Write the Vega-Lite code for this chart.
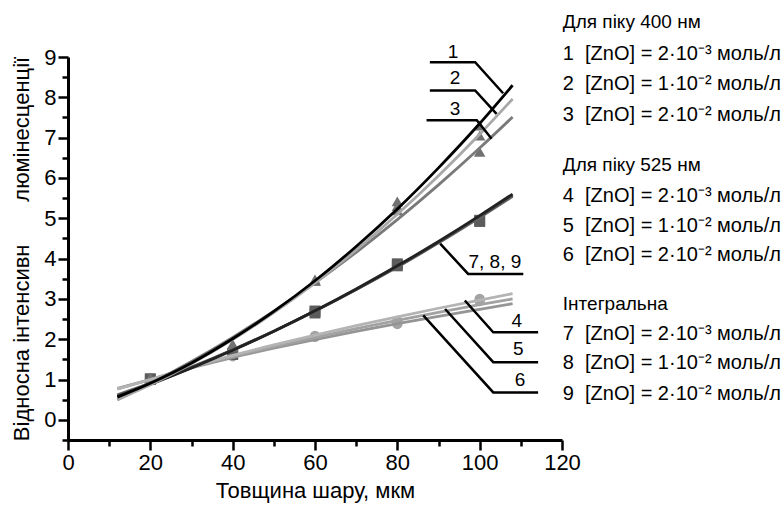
{
  "$schema": "https://vega.github.io/schema/vega-lite/v6.json",
  "width": 494,
  "height": 383,
  "autosize": {"type": "none"},
  "padding": {"left": 68, "top": 57, "right": 222, "bottom": 73},
  "background": "white",
  "config": {
    "view": {"stroke": null},
    "font": "Liberation Sans, Arial, sans-serif",
    "text": {"font": "Liberation Sans, Arial, sans-serif"}
  },
  "datasets": {
    "fits": [
      {"s": "6", "x": 12, "y": 0.78}, {"s": "6", "x": 20, "y": 1.0}, {"s": "6", "x": 30, "y": 1.29}, {"s": "6", "x": 40, "y": 1.545}, {"s": "6", "x": 50, "y": 1.776}, {"s": "6", "x": 60, "y": 1.992}, {"s": "6", "x": 70, "y": 2.195}, {"s": "6", "x": 80, "y": 2.385}, {"s": "6", "x": 90, "y": 2.568}, {"s": "6", "x": 100, "y": 2.743}, {"s": "6", "x": 108, "y": 2.88},
      {"s": "5", "x": 12, "y": 0.77}, {"s": "5", "x": 20, "y": 1.0}, {"s": "5", "x": 30, "y": 1.302}, {"s": "5", "x": 40, "y": 1.571}, {"s": "5", "x": 50, "y": 1.817}, {"s": "5", "x": 60, "y": 2.048}, {"s": "5", "x": 70, "y": 2.264}, {"s": "5", "x": 80, "y": 2.469}, {"s": "5", "x": 90, "y": 2.667}, {"s": "5", "x": 100, "y": 2.855}, {"s": "5", "x": 108, "y": 3.0},
      {"s": "4", "x": 12, "y": 0.76}, {"s": "4", "x": 20, "y": 1.0}, {"s": "4", "x": 30, "y": 1.316}, {"s": "4", "x": 40, "y": 1.598}, {"s": "4", "x": 50, "y": 1.859}, {"s": "4", "x": 60, "y": 2.104}, {"s": "4", "x": 70, "y": 2.336}, {"s": "4", "x": 80, "y": 2.556}, {"s": "4", "x": 90, "y": 2.768}, {"s": "4", "x": 100, "y": 2.972}, {"s": "4", "x": 108, "y": 3.13},
      {"s": "9", "x": 12, "y": 0.62}, {"s": "9", "x": 20, "y": 0.91}, {"s": "9", "x": 30, "y": 1.31}, {"s": "9", "x": 40, "y": 1.74}, {"s": "9", "x": 50, "y": 2.2}, {"s": "9", "x": 60, "y": 2.7}, {"s": "9", "x": 70, "y": 3.23}, {"s": "9", "x": 80, "y": 3.79}, {"s": "9", "x": 90, "y": 4.39}, {"s": "9", "x": 100, "y": 5.02}, {"s": "9", "x": 108, "y": 5.54},
      {"s": "8", "x": 12, "y": 0.6}, {"s": "8", "x": 20, "y": 0.895}, {"s": "8", "x": 30, "y": 1.296}, {"s": "8", "x": 40, "y": 1.731}, {"s": "8", "x": 50, "y": 2.199}, {"s": "8", "x": 60, "y": 2.7}, {"s": "8", "x": 70, "y": 3.235}, {"s": "8", "x": 80, "y": 3.803}, {"s": "8", "x": 90, "y": 4.404}, {"s": "8", "x": 100, "y": 5.039}, {"s": "8", "x": 108, "y": 5.57},
      {"s": "7", "x": 12, "y": 0.58}, {"s": "7", "x": 20, "y": 0.88}, {"s": "7", "x": 30, "y": 1.285}, {"s": "7", "x": 40, "y": 1.725}, {"s": "7", "x": 50, "y": 2.198}, {"s": "7", "x": 60, "y": 2.705}, {"s": "7", "x": 70, "y": 3.245}, {"s": "7", "x": 80, "y": 3.82}, {"s": "7", "x": 90, "y": 4.425}, {"s": "7", "x": 100, "y": 5.065}, {"s": "7", "x": 108, "y": 5.6},
      {"s": "3", "x": 12, "y": 0.5}, {"s": "3", "x": 20, "y": 0.901}, {"s": "3", "x": 30, "y": 1.447}, {"s": "3", "x": 40, "y": 2.045}, {"s": "3", "x": 50, "y": 2.696}, {"s": "3", "x": 60, "y": 3.4}, {"s": "3", "x": 70, "y": 4.156}, {"s": "3", "x": 80, "y": 4.965}, {"s": "3", "x": 90, "y": 5.827}, {"s": "3", "x": 100, "y": 6.741}, {"s": "3", "x": 108, "y": 7.51},
      {"s": "2", "x": 12, "y": 0.5}, {"s": "2", "x": 20, "y": 0.868}, {"s": "2", "x": 30, "y": 1.393}, {"s": "2", "x": 40, "y": 1.99}, {"s": "2", "x": 50, "y": 2.659}, {"s": "2", "x": 60, "y": 3.4}, {"s": "2", "x": 70, "y": 4.213}, {"s": "2", "x": 80, "y": 5.098}, {"s": "2", "x": 90, "y": 6.055}, {"s": "2", "x": 100, "y": 7.084}, {"s": "2", "x": 108, "y": 7.96},
      {"s": "1", "x": 12, "y": 0.56}, {"s": "1", "x": 20, "y": 0.906}, {"s": "1", "x": 30, "y": 1.41}, {"s": "1", "x": 40, "y": 2.01}, {"s": "1", "x": 50, "y": 2.69}, {"s": "1", "x": 60, "y": 3.45}, {"s": "1", "x": 70, "y": 4.3}, {"s": "1", "x": 80, "y": 5.23}, {"s": "1", "x": 90, "y": 6.25}, {"s": "1", "x": 100, "y": 7.35}, {"s": "1", "x": 108, "y": 8.3}
    ],
    "pts": [
      {"g": "cir", "x": 20, "y": 1.0}, {"g": "cir", "x": 40, "y": 1.58}, {"g": "cir", "x": 60, "y": 2.08}, {"g": "cir", "x": 80, "y": 2.45}, {"g": "cir", "x": 100, "y": 3.0},
      {"g": "cir", "x": 20, "y": 1.02}, {"g": "cir", "x": 40, "y": 1.6}, {"g": "cir", "x": 60, "y": 2.06}, {"g": "cir", "x": 80, "y": 2.38}, {"g": "cir", "x": 100, "y": 2.95},
      {"g": "sq", "x": 20, "y": 1.0}, {"g": "sq", "x": 40, "y": 1.65}, {"g": "sq", "x": 60, "y": 2.65}, {"g": "sq", "x": 80, "y": 3.87}, {"g": "sq", "x": 100, "y": 4.92},
      {"g": "sq", "x": 20, "y": 1.02}, {"g": "sq", "x": 40, "y": 1.62}, {"g": "sq", "x": 60, "y": 2.7}, {"g": "sq", "x": 80, "y": 3.82}, {"g": "sq", "x": 100, "y": 4.95},
      {"g": "tri", "x": 20, "y": 1.05}, {"g": "tri", "x": 40, "y": 1.85}, {"g": "tri", "x": 60, "y": 3.48}, {"g": "tri", "x": 80, "y": 5.42}, {"g": "tri", "x": 100, "y": 6.65},
      {"g": "tri", "x": 20, "y": 1.0}, {"g": "tri", "x": 40, "y": 1.82}, {"g": "tri", "x": 60, "y": 3.45}, {"g": "tri", "x": 80, "y": 5.2}, {"g": "tri", "x": 100, "y": 7.05},
      {"g": "tri", "x": 20, "y": 1.02}, {"g": "tri", "x": 40, "y": 1.88}, {"g": "tri", "x": 60, "y": 3.45}, {"g": "tri", "x": 80, "y": 5.3}, {"g": "tri", "x": 100, "y": 7.3}
    ],
    "leaders": [
      {"id": "1", "o": 1, "x": 87.9, "y": 8.87}, {"id": "1", "o": 2, "x": 98.9, "y": 8.87}, {"id": "1", "o": 3, "x": 105.7, "y": 8.1},
      {"id": "2", "o": 1, "x": 87.9, "y": 8.17}, {"id": "2", "o": 2, "x": 98.9, "y": 8.17}, {"id": "2", "o": 3, "x": 104.1, "y": 7.59},
      {"id": "3", "o": 1, "x": 87.1, "y": 7.43}, {"id": "3", "o": 2, "x": 99.3, "y": 7.43}, {"id": "3", "o": 3, "x": 102.9, "y": 6.97},
      {"id": "789", "o": 1, "x": 90.4, "y": 4.37}, {"id": "789", "o": 2, "x": 97.2, "y": 3.62}, {"id": "789", "o": 3, "x": 110.6, "y": 3.62},
      {"id": "4", "o": 1, "x": 96.4, "y": 2.96}, {"id": "4", "o": 2, "x": 103.3, "y": 2.17}, {"id": "4", "o": 3, "x": 114.2, "y": 2.17},
      {"id": "5", "o": 1, "x": 91.6, "y": 2.75}, {"id": "5", "o": 2, "x": 103.3, "y": 1.43}, {"id": "5", "o": 3, "x": 114.2, "y": 1.43},
      {"id": "6", "o": 1, "x": 86.3, "y": 2.59}, {"id": "6", "o": 2, "x": 103.3, "y": 0.68}, {"id": "6", "o": 3, "x": 114.2, "y": 0.68}
    ],
    "lbl": [
      {"t": "1", "x": 93.5, "y": 9.12}, {"t": "2", "x": 94, "y": 8.47}, {"t": "3", "x": 94, "y": 7.72},
      {"t": "7, 8, 9", "x": 103.7, "y": 3.91},
      {"t": "4", "x": 109, "y": 2.46}, {"t": "5", "x": 109.4, "y": 1.76}, {"t": "6", "x": 109.8, "y": 0.98}
    ],
    "head": [
      {"t": "Для піку 400 нм", "x": 120.2, "y": 9.86},
      {"t": "Для піку 525 нм", "x": 120.2, "y": 6.31},
      {"t": "Інтегральна", "x": 120.2, "y": 2.88}
    ],
    "leg": [
      {"t": "1\u00a0\u00a0[ZnO] = 2·10⁻³ моль/л", "x": 120.2, "y": 9.08},
      {"t": "2\u00a0\u00a0[ZnO] = 1·10⁻² моль/л", "x": 120.2, "y": 8.34},
      {"t": "3\u00a0\u00a0[ZnO] = 2·10⁻² моль/л", "x": 120.2, "y": 7.55},
      {"t": "4\u00a0\u00a0[ZnO] = 2·10⁻³ моль/л", "x": 120.2, "y": 5.56},
      {"t": "5\u00a0\u00a0[ZnO] = 1·10⁻² моль/л", "x": 120.2, "y": 4.82},
      {"t": "6\u00a0\u00a0[ZnO] = 2·10⁻² моль/л", "x": 120.2, "y": 4.08},
      {"t": "7\u00a0\u00a0[ZnO] = 2·10⁻³ моль/л", "x": 120.2, "y": 2.14},
      {"t": "8\u00a0\u00a0[ZnO] = 1·10⁻² моль/л", "x": 120.2, "y": 1.4},
      {"t": "9\u00a0\u00a0[ZnO] = 2·10⁻² моль/л", "x": 120.2, "y": 0.65}
    ]
  },
  "encoding": {
    "x": {
      "field": "x", "type": "quantitative",
      "scale": {"domain": [0, 120], "nice": false, "zero": false},
      "axis": {
        "title": "Товщина шару, мкм",
        "values": [0, 10, 20, 30, 40, 50, 60, 70, 80, 90, 100, 110, 120],
        "labelExpr": "datum.value % 20 === 0 ? format(datum.value, 'd') : ''",
        "labelOverlap": false, "labelBound": false, "labelFlush": false,
        "grid": false,
        "domainColor": "black", "domainWidth": 3,
        "tickColor": "black", "tickWidth": 2.5,
        "tickSize": {"condition": {"test": "datum.value % 20 === 0", "value": 10}, "value": 6},
        "labelFontSize": 22, "labelColor": "black", "labelPadding": 2,
        "titleFontSize": 22, "titleFontWeight": "normal", "titleColor": "black", "titlePadding": 7
      }
    },
    "y": {
      "field": "y", "type": "quantitative",
      "scale": {"domain": [-0.5, 9], "nice": false, "zero": false},
      "axis": {
        "title": "Відносна інтенсивн\u00a0\u00a0\u00a0\u00a0\u00a0\u00a0\u00a0люмінесценції",
        "values": [-0.5, 0, 0.5, 1, 1.5, 2, 2.5, 3, 3.5, 4, 4.5, 5, 5.5, 6, 6.5, 7, 7.5, 8, 8.5, 9],
        "labelExpr": "datum.value % 1 === 0 && datum.value >= 0 ? format(datum.value, 'd') : ''",
        "labelOverlap": false, "labelBound": false, "labelFlush": false,
        "grid": false,
        "domainColor": "black", "domainWidth": 3,
        "tickColor": "black", "tickWidth": 2.5,
        "tickSize": {"condition": {"test": "datum.value % 1 === 0", "value": 10}, "value": 6},
        "labelFontSize": 22, "labelColor": "black", "labelPadding": 2,
        "titleFontSize": 22, "titleFontWeight": "normal", "titleColor": "black", "titlePadding": 10
      }
    }
  },
  "layer": [
    {
      "data": {"name": "pts"},
      "transform": [{"filter": "datum.g === 'cir'"}],
      "mark": {"type": "point", "shape": "circle", "filled": true, "size": 110, "color": "#a3a3a3", "opacity": 1}
    },
    {
      "data": {"name": "pts"},
      "transform": [{"filter": "datum.g === 'sq'"}],
      "mark": {"type": "point", "shape": "square", "filled": true, "size": 120, "color": "#5c5c5c", "opacity": 1}
    },
    {
      "data": {"name": "pts"},
      "transform": [{"filter": "datum.g === 'tri'"}],
      "mark": {"type": "point", "shape": "triangle-up", "filled": true, "size": 130, "color": "#717171", "opacity": 1}
    },
    {
      "data": {"name": "fits"},
      "mark": {"type": "line", "interpolate": "monotone", "strokeWidth": 2.8, "strokeCap": "butt"},
      "encoding": {
        "color": {
          "field": "s", "type": "nominal", "legend": null,
          "scale": {"domain": ["1", "2", "3", "4", "5", "6", "7", "8", "9"],
                    "range": ["#000000", "#a8a8a8", "#7a7a7a", "#b4b4b4", "#a2a2a2", "#959595", "#222222", "#555555", "#6a6a6a"]}
        },
        "detail": {"field": "s"}
      }
    },
    {
      "data": {"name": "leaders"},
      "mark": {"type": "line", "color": "black", "strokeWidth": 2.5, "interpolate": "linear"},
      "encoding": {
        "detail": {"field": "id"},
        "order": {"field": "o", "type": "quantitative"}
      }
    },
    {
      "data": {"name": "lbl"},
      "mark": {"type": "text", "fontSize": 19, "color": "black", "align": "center", "baseline": "middle"},
      "encoding": {"text": {"field": "t"}}
    },
    {
      "data": {"name": "head"},
      "mark": {"type": "text", "fontSize": 19, "color": "black", "align": "left", "baseline": "middle"},
      "encoding": {"text": {"field": "t"}}
    },
    {
      "data": {"name": "leg"},
      "mark": {"type": "text", "fontSize": 20, "color": "black", "align": "left", "baseline": "middle"},
      "encoding": {"text": {"field": "t"}}
    }
  ]
}
